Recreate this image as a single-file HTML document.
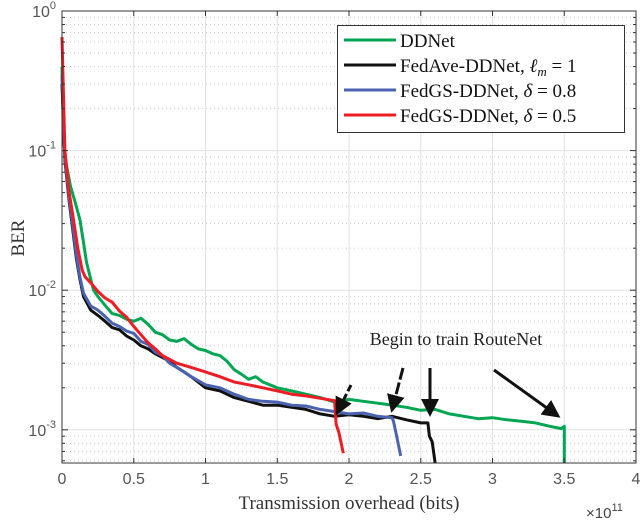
<!DOCTYPE html>
<html><head><meta charset="utf-8"><style>
body{margin:0;background:#fff}
svg{display:block}
</style></head><body>
<svg id="chart" width="640" height="521" xmlns="http://www.w3.org/2000/svg">
<g id="grid"></g>
<g id="series"></g>
<g id="axes"></g>
<g font-family="'Liberation Serif',serif">
<text x="456" y="345" font-size="18" text-anchor="middle" fill="#222">Begin to train RouteNet</text>
<defs><marker id="ah" markerWidth="6" markerHeight="6" refX="5" refY="3" orient="auto" markerUnits="strokeWidth"><path d="M0,0 L6,3 L0,6 z" fill="#111"/></marker></defs>
<line x1="351" y1="385" x2="337" y2="413" stroke="#111" stroke-width="3" stroke-dasharray="7,3" marker-end="url(#ah)"/>
<line x1="403" y1="368" x2="392" y2="410" stroke="#111" stroke-width="3" stroke-dasharray="12,3" marker-end="url(#ah)"/>
<line x1="430" y1="368" x2="430" y2="414" stroke="#111" stroke-width="3" marker-end="url(#ah)"/>
<line x1="494" y1="370" x2="558" y2="416" stroke="#111" stroke-width="3" marker-end="url(#ah)"/>
</g>
<g font-family="'Liberation Serif',serif" font-size="19" fill="#111">
<rect x="337.5" y="25.5" width="287" height="107" fill="#fff" stroke="#333" stroke-width="1"/>
<line x1="344" y1="40" x2="396" y2="40" stroke="#00a651" stroke-width="3"/>
<text x="400" y="47">DDNet</text>
<line x1="344" y1="65" x2="396" y2="65" stroke="#111" stroke-width="3"/>
<text x="400" y="72">FedAve-DDNet, <tspan font-style="italic">ℓ</tspan><tspan font-style="italic" font-size="13" dy="4">m</tspan><tspan dy="-4"> = 1</tspan></text>
<line x1="344" y1="90" x2="396" y2="90" stroke="#4a62b0" stroke-width="3"/>
<text x="400" y="97">FedGS-DDNet, <tspan font-style="italic">δ</tspan> = 0.8</text>
<line x1="344" y1="115" x2="396" y2="115" stroke="#ee1c25" stroke-width="3"/>
<text x="400" y="122">FedGS-DDNet, <tspan font-style="italic">δ</tspan> = 0.5</text>
</g>
<text x="349" y="509" font-family="'Liberation Serif',serif" font-size="19" text-anchor="middle" fill="#333">Transmission overhead (bits)</text>
<text x="586" y="518" font-family="'Liberation Sans',sans-serif" font-size="15" fill="#444">×10<tspan font-size="11" dy="-7">11</tspan></text>
<text transform="translate(24,238) rotate(-90)" font-family="'Liberation Serif',serif" font-size="19" text-anchor="middle" fill="#333">BER</text>
</svg>
<script>
const xTicks=[0,0.5,1,1.5,2,2.5,3,3.5,4];
const xTickLabels=["0","0.5","1","1.5","2","2.5","3","3.5","4"];
const yDecades=[0,-1,-2,-3];
const greenX=[0,0.01,0.03,0.06,0.1,0.125,0.15,0.17,0.2,0.22,0.25,0.3,0.35,0.4,0.45,0.5,0.55,0.6,0.65,0.7,0.75,0.8,0.85,0.9,0.95,1.0,1.05,1.1,1.15,1.2,1.25,1.3,1.35,1.4,1.5,1.6,1.7,1.8,1.9,2.0,2.1,2.2,2.3,2.4,2.5,2.6,2.7,2.8,2.9,3.0,3.1,3.2,3.3,3.4,3.48,3.5,3.5];
const greenY=[0.4,0.12,0.08,0.055,0.04,0.032,0.022,0.016,0.012,0.01,0.009,0.0078,0.0068,0.0066,0.0062,0.006,0.0063,0.0057,0.005,0.0048,0.0044,0.0043,0.0045,0.0041,0.0038,0.0037,0.0035,0.0034,0.0031,0.0027,0.0025,0.0023,0.0024,0.0022,0.0020,0.0019,0.0018,0.0017,0.00158,0.00165,0.0016,0.00155,0.0015,0.00145,0.00138,0.0014,0.0013,0.00125,0.0012,0.00122,0.00118,0.00115,0.00112,0.00106,0.00102,0.00106,0.00058];
const blackX=[0,0.02,0.05,0.07,0.1,0.125,0.15,0.2,0.25,0.3,0.35,0.4,0.45,0.5,0.55,0.6,0.65,0.7,0.75,0.8,0.85,0.9,1.0,1.1,1.2,1.3,1.4,1.5,1.6,1.7,1.8,1.9,2.0,2.1,2.2,2.3,2.4,2.5,2.55,2.56,2.58,2.6];
const blackY=[0.3,0.085,0.043,0.03,0.017,0.012,0.009,0.0072,0.0066,0.006,0.0054,0.0052,0.0047,0.0044,0.0040,0.0038,0.0035,0.0033,0.0031,0.0028,0.0026,0.0024,0.002,0.0019,0.0017,0.0016,0.0015,0.0015,0.00145,0.0014,0.0013,0.00125,0.00128,0.00125,0.0012,0.00125,0.00118,0.00112,0.00112,0.0009,0.00082,0.00058];
const blueX=[0,0.02,0.05,0.07,0.1,0.125,0.15,0.2,0.25,0.3,0.35,0.4,0.45,0.5,0.55,0.6,0.65,0.7,0.75,0.8,0.9,1.0,1.1,1.2,1.3,1.4,1.5,1.6,1.7,1.8,1.9,2.0,2.1,2.2,2.3,2.31,2.33,2.36];
const blueY=[0.35,0.09,0.045,0.032,0.018,0.0125,0.0095,0.0077,0.0072,0.0065,0.0058,0.0055,0.0051,0.0049,0.0043,0.0041,0.0036,0.0034,0.003,0.0028,0.0024,0.0021,0.002,0.0018,0.00165,0.0016,0.00158,0.0015,0.00148,0.0014,0.00135,0.0013,0.00132,0.00125,0.00122,0.00115,0.00092,0.00065];
const redX=[0,0.02,0.05,0.08,0.11,0.14,0.16,0.2,0.25,0.3,0.35,0.4,0.45,0.5,0.55,0.6,0.65,0.7,0.8,0.9,1.0,1.1,1.2,1.3,1.4,1.5,1.6,1.7,1.8,1.9,1.91,1.93,1.96];
const redY=[0.65,0.1,0.05,0.032,0.02,0.014,0.0125,0.0113,0.0098,0.0088,0.0082,0.0071,0.0064,0.0055,0.0048,0.0042,0.0038,0.0034,0.003,0.0028,0.0026,0.0024,0.0022,0.0021,0.002,0.0019,0.0018,0.00175,0.00168,0.00162,0.0011,0.00095,0.00068];
const L=62,R=636,T=11,B=463,DEC=139.6;
const NS="http://www.w3.org/2000/svg";
function xs(v){return L+(v/4)*(R-L);}
function ys(v){return T-Math.log10(v)*DEC;}
function mk(tag,attrs,parent){const e=document.createElementNS(NS,tag);for(const k in attrs)e.setAttribute(k,attrs[k]);parent.appendChild(e);return e;}
const grid=document.getElementById('grid'),axes=document.getElementById('axes'),ser=document.getElementById('series');
mk('rect',{x:L,y:T,width:R-L,height:B-T,fill:'#fff'},grid);
xTicks.forEach((t,i)=>{const x=xs(t);
 const gl=mk('line',{x1:x,x2:x,y1:T,y2:B,stroke:'#e0e0e0','stroke-width':1},grid);
 
 
 mk('line',{x1:x,x2:x,y1:B,y2:B-5,stroke:'#333'},axes);mk('line',{x1:x,x2:x,y1:T,y2:T+5,stroke:'#333'},axes);
 const tl=mk('text',{x:x,y:B+21,'text-anchor':'middle','font-family':"'Liberation Sans',sans-serif",'font-size':16,fill:'#555'},axes);
 tl.textContent=xTickLabels[i];
 
 
});
yDecades.forEach(d=>{const y=ys(Math.pow(10,d));
 mk('line',{x1:L,x2:R,y1:y,y2:y,stroke:'#e0e0e0'},grid);
 mk('line',{x1:L,x2:L+6,y1:y,y2:y,stroke:'#333'},axes);mk('line',{x1:R,x2:R-6,y1:y,y2:y,stroke:'#333'},axes);
 const tl=mk('text',{x:56,y:y+6,'text-anchor':'end','font-family':"'Liberation Sans',sans-serif",'font-size':16,fill:'#555'},axes);
 tl.innerHTML='10<tspan font-size="11" dy="-8">'+d+'</tspan>';
 
 
 for(let m=2;m<=9;m++){const v=m*Math.pow(10,d-1);const yy=ys(v);if(yy>B||yy<T)continue;
  mk('line',{x1:L,x2:R,y1:yy,y2:yy,stroke:'#ccc','stroke-dasharray':'1,3'},grid);
  mk('line',{x1:L,x2:L+3,y1:yy,y2:yy,stroke:'#333'},axes);mk('line',{x1:R,x2:R-3,y1:yy,y2:yy,stroke:'#333'},axes);}
});
mk('rect',{x:L,y:T,width:R-L,height:B-T,fill:'none',stroke:'#333','stroke-width':1},axes);
function line(X,Y,c,n){const p=X.map((x,i)=>xs(x).toFixed(1)+','+Math.min(ys(Y[i]),B).toFixed(1)).join(' ');
 const e=mk('polyline',{points:p,fill:'none',stroke:c,'stroke-width':3,'stroke-linejoin':'round'},ser);
 
 }
line(greenX,greenY,'#00a651','line-ddnet');
line(blackX,blackY,'#111','line-fedave');
line(blueX,blueY,'#4a62b0','line-fedgs-08');
line(redX,redY,'#ee1c25','line-fedgs-05');
</script>
</body></html>
